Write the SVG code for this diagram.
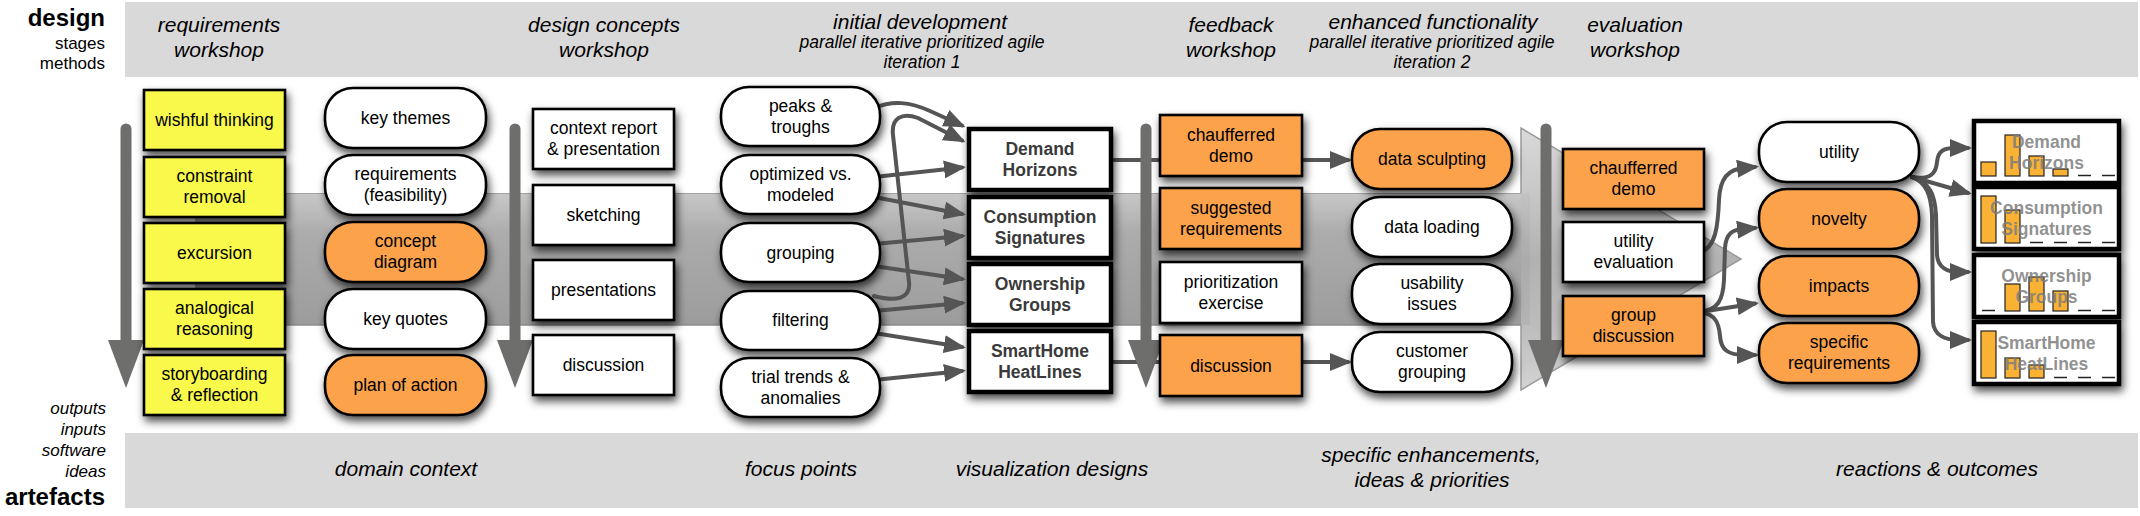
<svg xmlns="http://www.w3.org/2000/svg" width="2140" height="516" viewBox="0 0 2140 516">
<defs>
<style>
text{font-family:"Liberation Sans",Arial,Helvetica,sans-serif;fill:#000}
.hd{font-size:21px;font-style:italic;text-anchor:middle}
.sub{font-size:17.5px;font-style:italic;text-anchor:middle}
.side{font-size:17px;text-anchor:end}
.sidei{font-size:17px;font-style:italic;text-anchor:end}
.big{font-size:24px;font-weight:bold;text-anchor:end}
.t{font-size:17.5px;text-anchor:middle}
.tb{font-size:17.5px;font-weight:bold;text-anchor:middle;fill:#3a3a3a}
.tg{font-size:17.5px;font-weight:bold;text-anchor:middle;fill:#7d7d7d;fill-opacity:0.85}
.box{stroke:#000;stroke-width:2.6;filter:url(#sh)}
.yel{fill:#f9f94c}
.org{fill:#fba24c}
.wht{fill:#fff}
.vis{fill:#fff;stroke:#000;stroke-width:4.5;filter:url(#sh)}
.bar{fill:#f9b233;stroke:#222;stroke-width:1.2}
.dash{stroke:#222;stroke-width:1.5}
.band{fill:#d9d9d9}
.stage{fill:#6e6f6d}
.c{fill:none;stroke:#555;stroke-width:4;stroke-linecap:round;stroke-linejoin:round}
.ca{marker-end:url(#ah)}
</style>
<filter id="sh" x="-20%" y="-25%" width="150%" height="170%">
<feDropShadow dx="2" dy="5" stdDeviation="4" flood-color="#000" flood-opacity="0.7"/>
</filter>
<marker id="ah" viewBox="0 0 22 18" refX="18" refY="9" markerWidth="22" markerHeight="18" markerUnits="userSpaceOnUse" orient="auto">
<path d="M0,0 L22,9 L0,18 Z" fill="#555"/>
</marker>
<linearGradient id="bandg" x1="0" y1="0" x2="0" y2="1">
<stop offset="0" stop-color="#c8c8c8"/>
<stop offset="0.3" stop-color="#acacac"/>
<stop offset="1" stop-color="#9c9c9c"/>
</linearGradient>
<linearGradient id="headg" x1="0" y1="0" x2="0" y2="1">
<stop offset="0" stop-color="#d6d6d6"/>
<stop offset="0.25" stop-color="#c2c2c2"/>
<stop offset="0.5" stop-color="#ababab"/>
<stop offset="0.75" stop-color="#b6b6b6"/>
<stop offset="1" stop-color="#d0d0d0"/>
</linearGradient>
</defs>

<g id="bands">
<rect class="band" x="125" y="2" width="2013" height="75"/>
<rect class="band" x="125" y="433" width="2013" height="75"/>
</g>

<g id="labels">
<text class="big" x="105" y="26">design</text>
<text class="side" x="105" y="49">stages</text>
<text class="side" x="105" y="69">methods</text>
<text class="sidei" x="106" y="414">outputs</text>
<text class="sidei" x="106" y="435">inputs</text>
<text class="sidei" x="106" y="456">software</text>
<text class="sidei" x="106" y="477">ideas</text>
<text class="big" x="105" y="505">artefacts</text>

<text class="hd" x="219" y="32">requirements</text>
<text class="hd" x="219" y="57">workshop</text>
<text class="hd" x="604" y="32">design concepts</text>
<text class="hd" x="604" y="57">workshop</text>
<text class="hd" x="920" y="29">initial development</text>
<text class="sub" x="922" y="48">parallel iterative prioritized agile</text>
<text class="sub" x="922" y="68">iteration 1</text>
<text class="hd" x="1231" y="32">feedback</text>
<text class="hd" x="1231" y="57">workshop</text>
<text class="hd" x="1433" y="29">enhanced functionality</text>
<text class="sub" x="1432" y="48">parallel iterative prioritized agile</text>
<text class="sub" x="1432" y="68">iteration 2</text>
<text class="hd" x="1635" y="32">evaluation</text>
<text class="hd" x="1635" y="57">workshop</text>

<text class="hd" x="406" y="476">domain context</text>
<text class="hd" x="801" y="476">focus points</text>
<text class="hd" x="1052" y="476">visualization designs</text>
<text class="hd" x="1431" y="462">specific enhancements,</text>
<text class="hd" x="1432" y="487">ideas &amp; priorities</text>
<text class="hd" x="1937" y="476">reactions &amp; outcomes</text>
</g>

<g id="process-band">
<rect x="195" y="193" width="1335" height="132" fill="url(#bandg)"/>
<line x1="195" y1="193.5" x2="1521" y2="193.5" stroke="#a2a2a2" stroke-width="1.2"/>
<line x1="195" y1="325" x2="1521" y2="325" stroke="#8c8c8c" stroke-width="1.5"/>
<polygon points="1521,128 1741,259 1521,390" fill="url(#headg)" opacity="0.92"/>
<path d="M1521,193 V128 L1741,259 L1521,390 V325" fill="none" stroke="#9a9a9a" stroke-width="1.5"/>
</g>

<g id="connectors">
<path class="c ca" d="M874,108 C893,100 910,102 930,111 L962,125.5"/>
<path class="c ca" d="M874,296 C896,302 911,299 909,282 L893,135 C891,118 902,112 918,118 L962,140.5"/>
<path class="c ca" d="M874,177 L962,167.5"/>
<path class="c ca" d="M874,197 L962,214"/>
<path class="c ca" d="M874,244 L962,236"/>
<path class="c ca" d="M874,266 L962,279"/>
<path class="c ca" d="M874,311 L962,303"/>
<path class="c ca" d="M874,333 L962,347"/>
<path class="c ca" d="M874,380 L962,371"/>
<path class="c" d="M1105,160 L1165,160"/>
<path class="c ca" d="M1300,160 L1348,160"/>
<path class="c" d="M1105,362 L1165,362"/>
<path class="c ca" d="M1300,362 L1348,362"/>
<path class="c ca" d="M1700,252 C1716,248 1718,225 1719,200 C1720,178 1728,169 1745,168 L1755,167"/>
<path class="c ca" d="M1700,312 C1718,310 1723,300 1724,280 L1725,248 C1726,234 1732,229 1745,229 L1755,228"/>
<path class="c ca" d="M1700,312 L1755,303.5"/>
<path class="c ca" d="M1700,312 C1716,314 1719,324 1720,336 C1721,350 1728,355 1745,355 L1755,355"/>
<path class="c ca" d="M1912,177 C1930,180 1936,174 1937,162 C1938,150 1945,148 1955,148 L1968,148"/>
<path class="c ca" d="M1912,177 L1968,193"/>
<path class="c ca" d="M1912,177 C1930,182 1935,195 1936,215 L1937,255 C1938,268 1948,272 1958,272 L1968,272"/>
<path class="c ca" d="M1912,177 C1926,182 1931,195 1932,215 L1933,322 C1934,335 1945,340 1958,340 L1968,340"/>
</g>

<g id="stage-arrows">
<path class="stage" d="M120.5,340 V129 A5.5,5.5 0 0 1 131.5,129 V340 H144 L126,388 L108,340 Z"/>
<path class="stage" d="M509.5,340 V129 A5.5,5.5 0 0 1 520.5,129 V340 H533 L515,388 L497,340 Z"/>
<path class="stage" d="M1140.5,340 V129 A5.5,5.5 0 0 1 1151.5,129 V340 H1164 L1146,388 L1128,340 Z"/>
<path class="stage" d="M1540.5,340 V129 A5.5,5.5 0 0 1 1551.5,129 V340 H1564 L1546,388 L1528,340 Z"/>
</g>

<g id="n-wishful"><rect class="box yel" x="144" y="90" width="141" height="60"/><text class="t" x="214.5" y="126">wishful thinking</text></g>
<g id="n-constraint"><rect class="box yel" x="144" y="157" width="141" height="60"/><text class="t" x="214.5" y="182">constraint</text><text class="t" x="214.5" y="203">removal</text></g>
<g id="n-excursion"><rect class="box yel" x="144" y="223" width="141" height="60"/><text class="t" x="214.5" y="259">excursion</text></g>
<g id="n-analogical"><rect class="box yel" x="144" y="289" width="141" height="60"/><text class="t" x="214.5" y="314">analogical</text><text class="t" x="214.5" y="335">reasoning</text></g>
<g id="n-storyboarding"><rect class="box yel" x="144" y="355" width="141" height="60"/><text class="t" x="214.5" y="380">storyboarding</text><text class="t" x="214.5" y="401">&amp; reflection</text></g>

<g id="n-key-themes"><rect class="box wht" x="325" y="88" width="161" height="60" rx="28"/><text class="t" x="405.5" y="124">key themes</text></g>
<g id="n-requirements"><rect class="box wht" x="325" y="155" width="161" height="60" rx="28"/><text class="t" x="405.5" y="180">requirements</text><text class="t" x="405.5" y="201">(feasibility)</text></g>
<g id="n-concept-diagram"><rect class="box org" x="325" y="222" width="161" height="60" rx="28"/><text class="t" x="405.5" y="247">concept</text><text class="t" x="405.5" y="268">diagram</text></g>
<g id="n-key-quotes"><rect class="box wht" x="325" y="289" width="161" height="60" rx="28"/><text class="t" x="405.5" y="325">key quotes</text></g>
<g id="n-plan-of-action"><rect class="box org" x="325" y="355" width="161" height="60" rx="28"/><text class="t" x="405.5" y="391">plan of action</text></g>

<g id="n-context-report"><rect class="box wht" x="533" y="109" width="141" height="60"/><text class="t" x="603.5" y="134">context report</text><text class="t" x="603.5" y="155">&amp; presentation</text></g>
<g id="n-sketching"><rect class="box wht" x="533" y="185" width="141" height="60"/><text class="t" x="603.5" y="221">sketching</text></g>
<g id="n-presentations"><rect class="box wht" x="533" y="260" width="141" height="60"/><text class="t" x="603.5" y="296">presentations</text></g>
<g id="n-discussion-1"><rect class="box wht" x="533" y="335" width="141" height="60"/><text class="t" x="603.5" y="371">discussion</text></g>

<g id="n-peaks"><rect class="box wht" x="721" y="87" width="159" height="59" rx="28"/><text class="t" x="800.5" y="112">peaks &amp;</text><text class="t" x="800.5" y="133">troughs</text></g>
<g id="n-optimized"><rect class="box wht" x="721" y="155" width="159" height="59" rx="28"/><text class="t" x="800.5" y="180">optimized vs.</text><text class="t" x="800.5" y="201">modeled</text></g>
<g id="n-grouping"><rect class="box wht" x="721" y="223" width="159" height="59" rx="28"/><text class="t" x="800.5" y="259">grouping</text></g>
<g id="n-filtering"><rect class="box wht" x="721" y="291" width="159" height="59" rx="28"/><text class="t" x="800.5" y="326">filtering</text></g>
<g id="n-trial-trends"><rect class="box wht" x="721" y="358" width="159" height="59" rx="28"/><text class="t" x="800.5" y="383">trial trends &amp;</text><text class="t" x="800.5" y="404">anomalies</text></g>

<g id="n-demand-horizons"><rect class="vis" x="969" y="129" width="142" height="61"/><text class="tb" x="1040" y="155">Demand</text><text class="tb" x="1040" y="176">Horizons</text></g>
<g id="n-consumption-signatures"><rect class="vis" x="969" y="197" width="142" height="61"/><text class="tb" x="1040" y="223">Consumption</text><text class="tb" x="1040" y="244">Signatures</text></g>
<g id="n-ownership-groups"><rect class="vis" x="969" y="264" width="142" height="61"/><text class="tb" x="1040" y="290">Ownership</text><text class="tb" x="1040" y="311">Groups</text></g>
<g id="n-smarthome-heatlines"><rect class="vis" x="969" y="331" width="142" height="61"/><text class="tb" x="1040" y="357">SmartHome</text><text class="tb" x="1040" y="378">HeatLines</text></g>

<g id="n-chauffeured-demo-1"><rect class="box org" x="1160" y="115" width="142" height="61"/><text class="t" x="1231" y="141">chaufferred</text><text class="t" x="1231" y="162">demo</text></g>
<g id="n-suggested-requirements"><rect class="box org" x="1160" y="188" width="142" height="61"/><text class="t" x="1231" y="214">suggested</text><text class="t" x="1231" y="235">requirements</text></g>
<g id="n-prioritization"><rect class="box wht" x="1160" y="262" width="142" height="61"/><text class="t" x="1231" y="288">prioritization</text><text class="t" x="1231" y="309">exercise</text></g>
<g id="n-discussion-2"><rect class="box org" x="1160" y="335" width="142" height="61"/><text class="t" x="1231" y="371.5">discussion</text></g>

<g id="n-data-sculpting"><rect class="box org" x="1352" y="129" width="160" height="60" rx="28"/><text class="t" x="1432" y="165">data sculpting</text></g>
<g id="n-data-loading"><rect class="box wht" x="1352" y="197" width="160" height="60" rx="28"/><text class="t" x="1432" y="233">data loading</text></g>
<g id="n-usability"><rect class="box wht" x="1352" y="264" width="160" height="60" rx="28"/><text class="t" x="1432" y="289">usability</text><text class="t" x="1432" y="310">issues</text></g>
<g id="n-customer-grouping"><rect class="box wht" x="1352" y="332" width="160" height="60" rx="28"/><text class="t" x="1432" y="357">customer</text><text class="t" x="1432" y="378">grouping</text></g>

<g id="n-chauffeured-demo-2"><rect class="box org" x="1563" y="149" width="141" height="60"/><text class="t" x="1633.5" y="174">chaufferred</text><text class="t" x="1633.5" y="195">demo</text></g>
<g id="n-utility-evaluation"><rect class="box wht" x="1563" y="222" width="141" height="60"/><text class="t" x="1633.5" y="247">utility</text><text class="t" x="1633.5" y="268">evaluation</text></g>
<g id="n-group-discussion"><rect class="box org" x="1563" y="296" width="141" height="60"/><text class="t" x="1633.5" y="321">group</text><text class="t" x="1633.5" y="342">discussion</text></g>

<g id="n-utility"><rect class="box wht" x="1759" y="122" width="160" height="60" rx="28"/><text class="t" x="1839" y="158">utility</text></g>
<g id="n-novelty"><rect class="box org" x="1759" y="189" width="160" height="60" rx="28"/><text class="t" x="1839" y="225">novelty</text></g>
<g id="n-impacts"><rect class="box org" x="1759" y="256" width="160" height="60" rx="28"/><text class="t" x="1839" y="292">impacts</text></g>
<g id="n-specific-requirements"><rect class="box org" x="1759" y="323" width="160" height="60" rx="28"/><text class="t" x="1839" y="348">specific</text><text class="t" x="1839" y="369">requirements</text></g>

<g id="n-rated-demand-horizons">
<rect class="vis" x="1974" y="121" width="145" height="62"/>
<rect class="bar" x="1981" y="162" width="15" height="14"/>
<rect class="bar" x="2005" y="135" width="15" height="41"/>
<rect class="bar" x="2029" y="156" width="15" height="20"/>
<rect class="bar" x="2053" y="169" width="15" height="7"/>
<line class="dash" x1="2078" y1="175.5" x2="2091" y2="175.5"/>
<line class="dash" x1="2102" y1="175.5" x2="2115" y2="175.5"/>
<text class="tg" x="2046.5" y="147.5">Demand</text><text class="tg" x="2046.5" y="168.5">Horizons</text>
</g>
<g id="n-rated-consumption-signatures">
<rect class="vis" x="1974" y="187" width="145" height="62"/>
<rect class="bar" x="1981" y="196" width="15" height="47"/>
<rect class="bar" x="2005" y="210" width="15" height="33"/>
<line class="dash" x1="2030" y1="242.5" x2="2043" y2="242.5"/>
<line class="dash" x1="2054" y1="242.5" x2="2067" y2="242.5"/>
<line class="dash" x1="2078" y1="242.5" x2="2091" y2="242.5"/>
<line class="dash" x1="2102" y1="242.5" x2="2115" y2="242.5"/>
<text class="tg" x="2046.5" y="213.5">Consumption</text><text class="tg" x="2046.5" y="234.5">Signatures</text>
</g>
<g id="n-rated-ownership-groups">
<rect class="vis" x="1974" y="255" width="145" height="62"/>
<line class="dash" x1="1982" y1="310.5" x2="1995" y2="310.5"/>
<rect class="bar" x="2005" y="284" width="15" height="27"/>
<rect class="bar" x="2029" y="277" width="15" height="34"/>
<rect class="bar" x="2053" y="291" width="15" height="20"/>
<line class="dash" x1="2078" y1="310.5" x2="2091" y2="310.5"/>
<line class="dash" x1="2102" y1="310.5" x2="2115" y2="310.5"/>
<text class="tg" x="2046.5" y="281.5">Ownership</text><text class="tg" x="2046.5" y="302.5">Groups</text>
</g>
<g id="n-rated-smarthome-heatlines">
<rect class="vis" x="1974" y="322" width="145" height="62"/>
<rect class="bar" x="1981" y="331" width="15" height="47"/>
<rect class="bar" x="2005" y="358" width="15" height="20"/>
<rect class="bar" x="2029" y="365" width="15" height="13"/>
<line class="dash" x1="2054" y1="377.5" x2="2067" y2="377.5"/>
<line class="dash" x1="2078" y1="377.5" x2="2091" y2="377.5"/>
<line class="dash" x1="2102" y1="377.5" x2="2115" y2="377.5"/>
<text class="tg" x="2046.5" y="348.5">SmartHome</text><text class="tg" x="2046.5" y="369.5">HeatLines</text>
</g>
</svg>
